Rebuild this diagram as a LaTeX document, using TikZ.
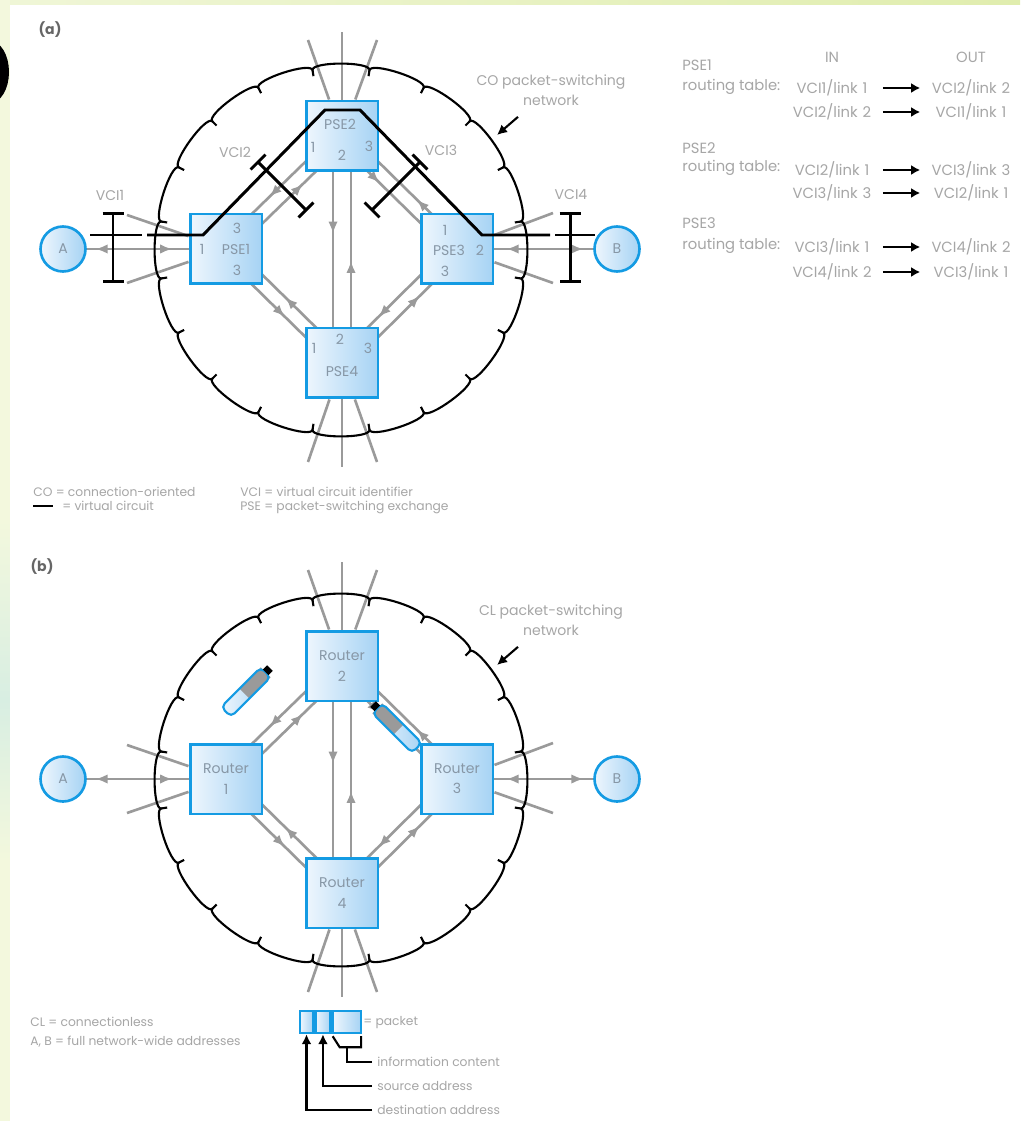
\documentclass[tikz,border=0pt]{standalone}
\usepackage{fontspec}
\setmainfont{Poppins}
\usepackage{tikz}
\usetikzlibrary{arrows.meta,positioning,calc,decorations.markings}
\definecolor{linkgray}{HTML}{9A9A9A}
\definecolor{labelgray}{HTML}{A6A6A6}
\definecolor{pseblue}{HTML}{149BE3}
\definecolor{pselight}{HTML}{EEF6FD}
\definecolor{psedark}{HTML}{A6D3F4}
\definecolor{psetext}{HTML}{8797A6}
\definecolor{pagetint}{HTML}{F3F8DD}
\definecolor{pagetint2}{HTML}{D8EEE2}
\definecolor{pagetop}{HTML}{E0EDAE}
\pgfdeclarelayer{paper}
\pgfdeclarelayer{links}
\pgfsetlayers{paper,links,main}

\begin{document}
\begin{tikzpicture}[x=0.02cm,y=-0.02cm,
  every node/.style={font=\fontsize{8}{11.5}\selectfont,text=labelgray,inner sep=0pt},
  tag/.style={text=black!60,font=\fontsize{8}{10}\selectfont\bfseries},
  pse/.style={draw=pseblue,line width=1.7pt,left color=pselight,right color=psedark,minimum width=14.4mm,minimum height=14mm,text=psetext,align=center},
  host/.style={circle,draw=pseblue,line width=1.5pt,left color=pselight,right color=psedark,minimum size=9mm,text=psetext},
  port/.style={text=psetext},
  cell/.style={draw=pseblue,line width=1.4pt,left color=pselight,right color=psedark,minimum height=4.4mm},
  link/.style={linkgray,line width=1.5pt},
  vc/.style={black,line width=1.7pt},
  cloud/.style={black,line width=1.2pt},
  ibar/.style={vc,{Bar[width=4.2mm]}-{Bar[width=4.2mm]}},
  ptr/.style={black,line width=1.2pt},
  tab/.style={text width=17mm,align=center,font=\fontsize{8.4}{10}\selectfont},
  tabhead/.style={anchor=west,font=\fontsize{8.4}{10}\selectfont},
  tabarrow/.style={black,line width=1.6pt,-{Latex[length=1.8mm,width=2mm]},shorten <=1.6mm,shorten >=1.6mm},
  legend/.style={anchor=west,font=\fontsize{7}{9}\selectfont},
  gomark/.style={postaction={decorate,decoration={markings,mark=at position #1 with {\arrow{Latex[length=2.4mm,width=1.9mm]}}}}},
  backmark/.style={postaction={decorate,decoration={markings,mark=at position #1 with {\arrowreversed{Latex[length=2.4mm,width=1.9mm]}}}}}]
\useasboundingbox (0,0) rectangle (1020,1121);

% paper
\begin{pgfonlayer}{paper}
\fill[pagetint] (0,0) rectangle (1020,1121);
\shade[top color=pagetint,bottom color=pagetint2] (0,520) rectangle (10,700);
\shade[top color=pagetint2,bottom color=pagetint] (0,700) rectangle (10,860);
\shade[left color=pagetop!50!white,right color=pagetop] (10,0) rectangle (1020,5);
\fill[white] (10,5) rectangle (1020,1121);
\begin{scope}
\clip (0,30) rectangle (10,110);
\draw[line width=1.8mm] (-12,72) ellipse [x radius=3.3mm,y radius=5.5mm];
\end{scope}
\end{pgfonlayer}

% (a) virtual circuits
\node[tag] (taga) at (50,30) {(a)};
\node[host] (hostAa) at (63,249) {A};
\node[pse] (sw1a) at (226,249) {};
\node[pse] (sw2a) at (342,136) {};
\node[pse] (sw3a) at (457,249) {};
\node[pse] (sw4a) at (342,363) {};
\node[host] (hostBa) at (617,249) {B};
\node[port] (lb1t) at ([shift={(11,-21)}]sw1a.center) {3};
\node[port] (lb1l) at ([shift={(-24,0)}]sw1a.center) {1};
\node[port] (lb1n) at ([shift={(10,0)}]sw1a.center) {PSE1};
\node[port] (lb1b) at ([shift={(11,21)}]sw1a.center) {3};
\node[port] (lb2n) at ([shift={(-2,-12)}]sw2a.center) {PSE2};
\node[port] (lb2l) at ([shift={(-29,11)}]sw2a.center) {1};
\node[port] (lb2b) at ([shift={(0,19)}]sw2a.center) {2};
\node[port] (lb2r) at ([shift={(27,10)}]sw2a.center) {3};
\node[port] (lb3t) at ([shift={(-12,-19)}]sw3a.center) {1};
\node[port] (lb3n) at ([shift={(-8,1)}]sw3a.center) {PSE3};
\node[port] (lb3r) at ([shift={(23,1)}]sw3a.center) {2};
\node[port] (lb3b) at ([shift={(-12,22)}]sw3a.center) {3};
\node[port] (lb4l) at ([shift={(-28,-15)}]sw4a.center) {1};
\node[port] (lb4t) at ([shift={(-2,-24)}]sw4a.center) {2};
\node[port] (lb4r) at ([shift={(26,-15)}]sw4a.center) {3};
\node[port] (lb4n) at ([shift={(0,9)}]sw4a.center) {PSE4};

% (b) datagrams
\node[tag] (tagb) at (42,567) {(b)};
\node[host] (hostAb) at (63,779) {A};
\node[pse] (sw1b) at (226,779) {Router\\1};
\node[pse] (sw2b) at (342,666) {Router\\2};
\node[pse] (sw3b) at (457,779) {Router\\3};
\node[pse] (sw4b) at (342,893) {Router\\4};
\node[host] (hostBb) at (617,779) {B};

% clouds and links, same for both networks
\foreach \p/\dy/\kind in {a/0/CO,b/530/CL}{
\begin{scope}[shift={(0,\dy)}]
\begin{scope}[shift={(341,250)}]
\draw[cloud] (9:182) foreach \a in {9,27,...,351}{ .. controls (\a:191) and (\a+18:191) .. (\a+18:182) };
\foreach \a in {9,27,...,351} \draw[cloud] (\a:182) -- (\a:176);
\end{scope}
\coordinate (pin\p) at (497,135);
\node[align=center] (net\p) at (551,90) {\kind\ packet-switching\\network};
\draw[ptr,-{Latex[length=2mm,width=2mm]}] ([shift={(-33,11)}]net\p.south) -- (pin\p);
\begin{pgfonlayer}{links}
\draw[link,backmark=0.2,gomark=0.67] (hostA\p.center) -- (sw1\p.center);
\draw[link,backmark=0.31,gomark=0.79] (sw3\p.center) -- (hostB\p.center);
\draw[link,gomark=0.62] ([shift={(5,5)}]sw1\p.center) -- ([shift={(5,5)}]sw2\p.center);
\draw[link,backmark=0.42] ([shift={(-5,-5)}]sw1\p.center) -- ([shift={(-5,-5)}]sw2\p.center);
\draw[link,gomark=0.37] ([shift={(-5,5)}]sw2\p.center) -- ([shift={(-5,5)}]sw3\p.center);
\draw[link,backmark=0.61] ([shift={(5,-5)}]sw2\p.center) -- ([shift={(5,-5)}]sw3\p.center);
\draw[link,gomark=0.55] ([shift={(-5,5)}]sw1\p.center) -- ([shift={(-5,5)}]sw4\p.center);
\draw[link,backmark=0.47] ([shift={(5,-5)}]sw1\p.center) -- ([shift={(5,-5)}]sw4\p.center);
\draw[link,gomark=0.64] ([shift={(-5,-5)}]sw3\p.center) -- ([shift={(-5,-5)}]sw4\p.center);
\draw[link,backmark=0.37] ([shift={(5,5)}]sw3\p.center) -- ([shift={(5,5)}]sw4\p.center);
\draw[link,gomark=0.43] ([shift={(-9,0)}]sw2\p.center) -- ([shift={(-9,0)}]sw4\p.center);
\draw[link,backmark=0.55] ([shift={(9,0)}]sw2\p.center) -- ([shift={(9,0)}]sw4\p.center);
\foreach \n/\x/\y [count=\k] in {1/127/215,1/127/283,2/308/40,2/342/32,2/377/40,3/553/213,3/553/283,4/308/462,4/342/467,4/377/462}{
  \coordinate (stub\k\p) at (\x,\y);
  \draw[link] (sw\n\p) -- (stub\k\p);
}
\end{pgfonlayer}
\end{scope}
}

% virtual circuit A to B
\draw[vc] ([shift={(27,-14)}]hostAa.center) -- ([shift={(-84,-14)}]sw1a.center);
\draw[vc] ([shift={(-79,-14)}]sw1a.center) -- ([shift={(-23,-14)}]sw1a.center) -- ([shift={(-17,-26)}]sw2a.center) -- ([shift={(18,-26)}]sw2a.center) -- ([shift={(25,-14)}]sw3a.center) -- ([shift={(93,-14)}]sw3a.center);
\draw[vc] ([shift={(-62,-14)}]hostBa.center) -- ([shift={(-22,-14)}]hostBa.center);
\draw[ibar] (113,212) -- (113,283);
\draw[ibar] (257,161) -- (307,211);
\draw[ibar] (371,211) -- (421,161);
\draw[ibar] (570,212) -- (570,283);
\node (vci1) at (110,195) {VCI1};
\node (vci2) at (235,152) {VCI2};
\node (vci3) at (441,150) {VCI3};
\node (vci4) at (571,195) {VCI4};

% routing tables
\node[font=\fontsize{8.4}{10}\selectfont] (inhd) at (832,57) {IN};
\node[font=\fontsize{8.4}{10}\selectfont] (outhd) at (971,57) {OUT};
\node[tabhead] (tbl1) at (682,65) {PSE1};
\node[tabhead] (tbl1r) at (682,87) {routing table:};
\node[tab] (in1a) at (832,88) {VCI1/link 1};
\node[tab] (out1a) at (971,88) {VCI2/link 2};
\node[tab] (in1b) at (832,112) {VCI2/link 2};
\node[tab] (out1b) at (971,112) {VCI1/link 1};
\node[tabhead] (tbl2) at (682,148) {PSE2};
\node[tabhead] (tbl2r) at (682,168) {routing table:};
\node[tab] (in2a) at (832,170) {VCI2/link 1};
\node[tab] (out2a) at (971,170) {VCI3/link 3};
\node[tab] (in2b) at (832,193) {VCI3/link 3};
\node[tab] (out2b) at (971,193) {VCI2/link 1};
\node[tabhead] (tbl3) at (682,223) {PSE3};
\node[tabhead] (tbl3r) at (682,246) {routing table:};
\node[tab] (in3a) at (832,247) {VCI3/link 1};
\node[tab] (out3a) at (971,247) {VCI4/link 2};
\node[tab] (in3b) at (832,272) {VCI4/link 2};
\node[tab] (out3b) at (971,272) {VCI3/link 1};
\foreach \r in {1a,1b,2a,2b,3a,3b} \draw[tabarrow] (in\r) -- (out\r);

% key (a)
\node[legend] (keyco) at (33,492) {CO = connection-oriented};
\draw[vc] (33,506) -- (53,506);
\node[legend] (keyvc) at (62,506) {= virtual circuit};
\node[legend] (keyvci) at (240,492) {VCI = virtual circuit identifier};
\node[legend] (keypse) at (240,507) {PSE = packet-switching exchange};

% packets in transit
\begin{scope}[shift={(248,690)},rotate=45]
\shade[left color=pselight,right color=psedark,rounded corners=1mm] (-31,-7) rectangle (25,7);
\fill[linkgray] (-5,-7) rectangle (25,7);
\draw[pseblue,line width=1.2pt,rounded corners=1mm] (-31,-7) rectangle (25,7);
\fill[black] (25,-4) rectangle (31,4);
\end{scope}
\begin{scope}[shift={(395,726)},rotate=135]
\shade[left color=pselight,right color=psedark,rounded corners=1mm] (-31,-7) rectangle (25,7);
\fill[linkgray] (-5,-7) rectangle (25,7);
\draw[pseblue,line width=1.2pt,rounded corners=1mm] (-31,-7) rectangle (25,7);
\fill[black] (25,-4) rectangle (31,4);
\end{scope}

% key (b)
\node[legend] (keycl) at (30,1022) {CL = connectionless};
\node[legend] (keyab) at (30,1042) {A, B = full network-wide addresses};
\node[cell,minimum width=2.6mm] (cellD) at (306.5,1022) {};
\node[cell,minimum width=3mm,right=0pt of cellD] (cellS) {};
\node[cell,minimum width=5.6mm,right=0pt of cellS] (cellI) {};
\node[legend] (keypkt) at (363,1023) {= packet};
\node[legend,inner sep=1mm] (infol) at (372,1062) {information content};
\node[legend,inner sep=1mm] (srcl) at (372,1086) {source address};
\node[legend,inner sep=1mm] (dstl) at (372,1110) {destination address};
\draw[ptr,-{Latex[length=2mm,width=2mm]}] (dstl.west) -| (cellD.south);
\draw[ptr,-{Latex[length=2mm,width=2mm]}] (srcl.west) -| (cellS.south);
\draw[ptr] (infol.west) -| ($(cellI.south)+(0,13)$);
\draw[ptr] ([shift={(1,2)}]cellI.south west) -- ++(7,11) -| ([shift={(-1,2)}]cellI.south east);
\end{tikzpicture}
\end{document}
